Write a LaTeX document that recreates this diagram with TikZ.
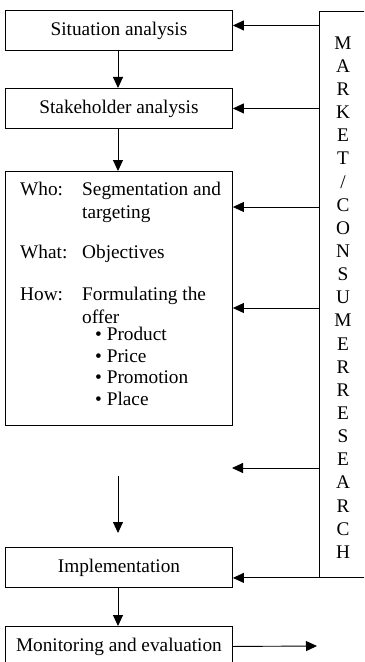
\documentclass[tikz,border=0pt]{standalone}
\usepackage{fontspec}
\setmainfont{Liberation Serif}
\usetikzlibrary{arrows.meta}
\begin{document}
\begin{tikzpicture}[x=1bp,y=-1bp,
  every node/.style={font=\fontsize{19.3bp}{23.14bp}\selectfont},
  box/.style={draw, line width=0.9bp, minimum width=227bp, minimum height=40bp, inner sep=0pt, anchor=north west},
  txt/.style={anchor=base west, inner sep=0pt},
  arr/.style={line width=0.9bp, -{Triangle[length=11bp,width=10bp]}}]
\useasboundingbox (0,0) rectangle (364,662);
\clip (0,0) rectangle (364,662);
% boxes
\node[box] (sit) at (5,10) {Situation analysis};
\node[box] (stake) at (5,88) {Stakeholder analysis};
\node[box, minimum height=254bp] (big) at (5,171) {};
\node[box] (impl) at (5,547) {Implementation};
\node[box] (mon) at (5,626) {Monitoring and evaluation};
\node[box, minimum width=50bp, minimum height=566bp] (research) at (319,11) {};
\node[align=center, inner sep=0pt] (rtext) at (343,297.5) {M\\A\\R\\K\\E\\T\\/\\C\\O\\N\\S\\U\\M\\E\\R\\R\\E\\S\\E\\A\\R\\C\\H};
% text in big box
\node[txt] (who) at (20,195) {Who:};
\node[txt] (who1) at (82,195) {Segmentation and};
\node[txt] (who2) at (82,218) {targeting};
\node[txt] (what) at (20,258) {What:};
\node[txt] (what1) at (82,258) {Objectives};
\node[txt] (how) at (20,300) {How:};
\node[txt] (how1) at (82,300) {Formulating the};
\node[txt] (how2) at (82,323) {offer};
\node[txt] (b1) at (95,340) {\textbullet\ Product};
\node[txt] (b2) at (95,362) {\textbullet\ Price};
\node[txt] (b3) at (95,383) {\textbullet\ Promotion};
\node[txt] (b4) at (95,405) {\textbullet\ Place};
% attachment points
\coordinate (sitin) at ([yshift=5bp]sit.east);
\coordinate (bigin1) at ([yshift=-36bp]big.north east);
\coordinate (bigin2) at ([yshift=-137bp]big.north east);
\coordinate (free1) at (232,468);
\coordinate (f2s) at (118,476);
\coordinate (f2e) at (118,533);
\coordinate (mout) at (317,646);
% vertical arrows
\draw[arr] (sit.south -| f2s) -- (stake.north -| f2s);
\draw[arr] (stake.south -| f2s) -- (big.north -| f2s);
\draw[arr] (f2s) -- (f2e);
\draw[arr] (impl.south -| f2s) -- (mon.north -| f2s);
% horizontal arrows from research
\draw[arr] (research.west |- sitin) -- (sitin);
\draw[arr] (research.west |- stake.east) -- (stake.east);
\draw[arr] (research.west |- bigin1) -- (bigin1);
\draw[arr] (research.west |- bigin2) -- (bigin2);
\draw[arr] (research.west |- free1) -- (free1);
\draw[arr] (research.south west) -- (impl.east |- research.south west);
\draw[arr] (mon.east) -- (mout);
\end{tikzpicture}
\end{document}
